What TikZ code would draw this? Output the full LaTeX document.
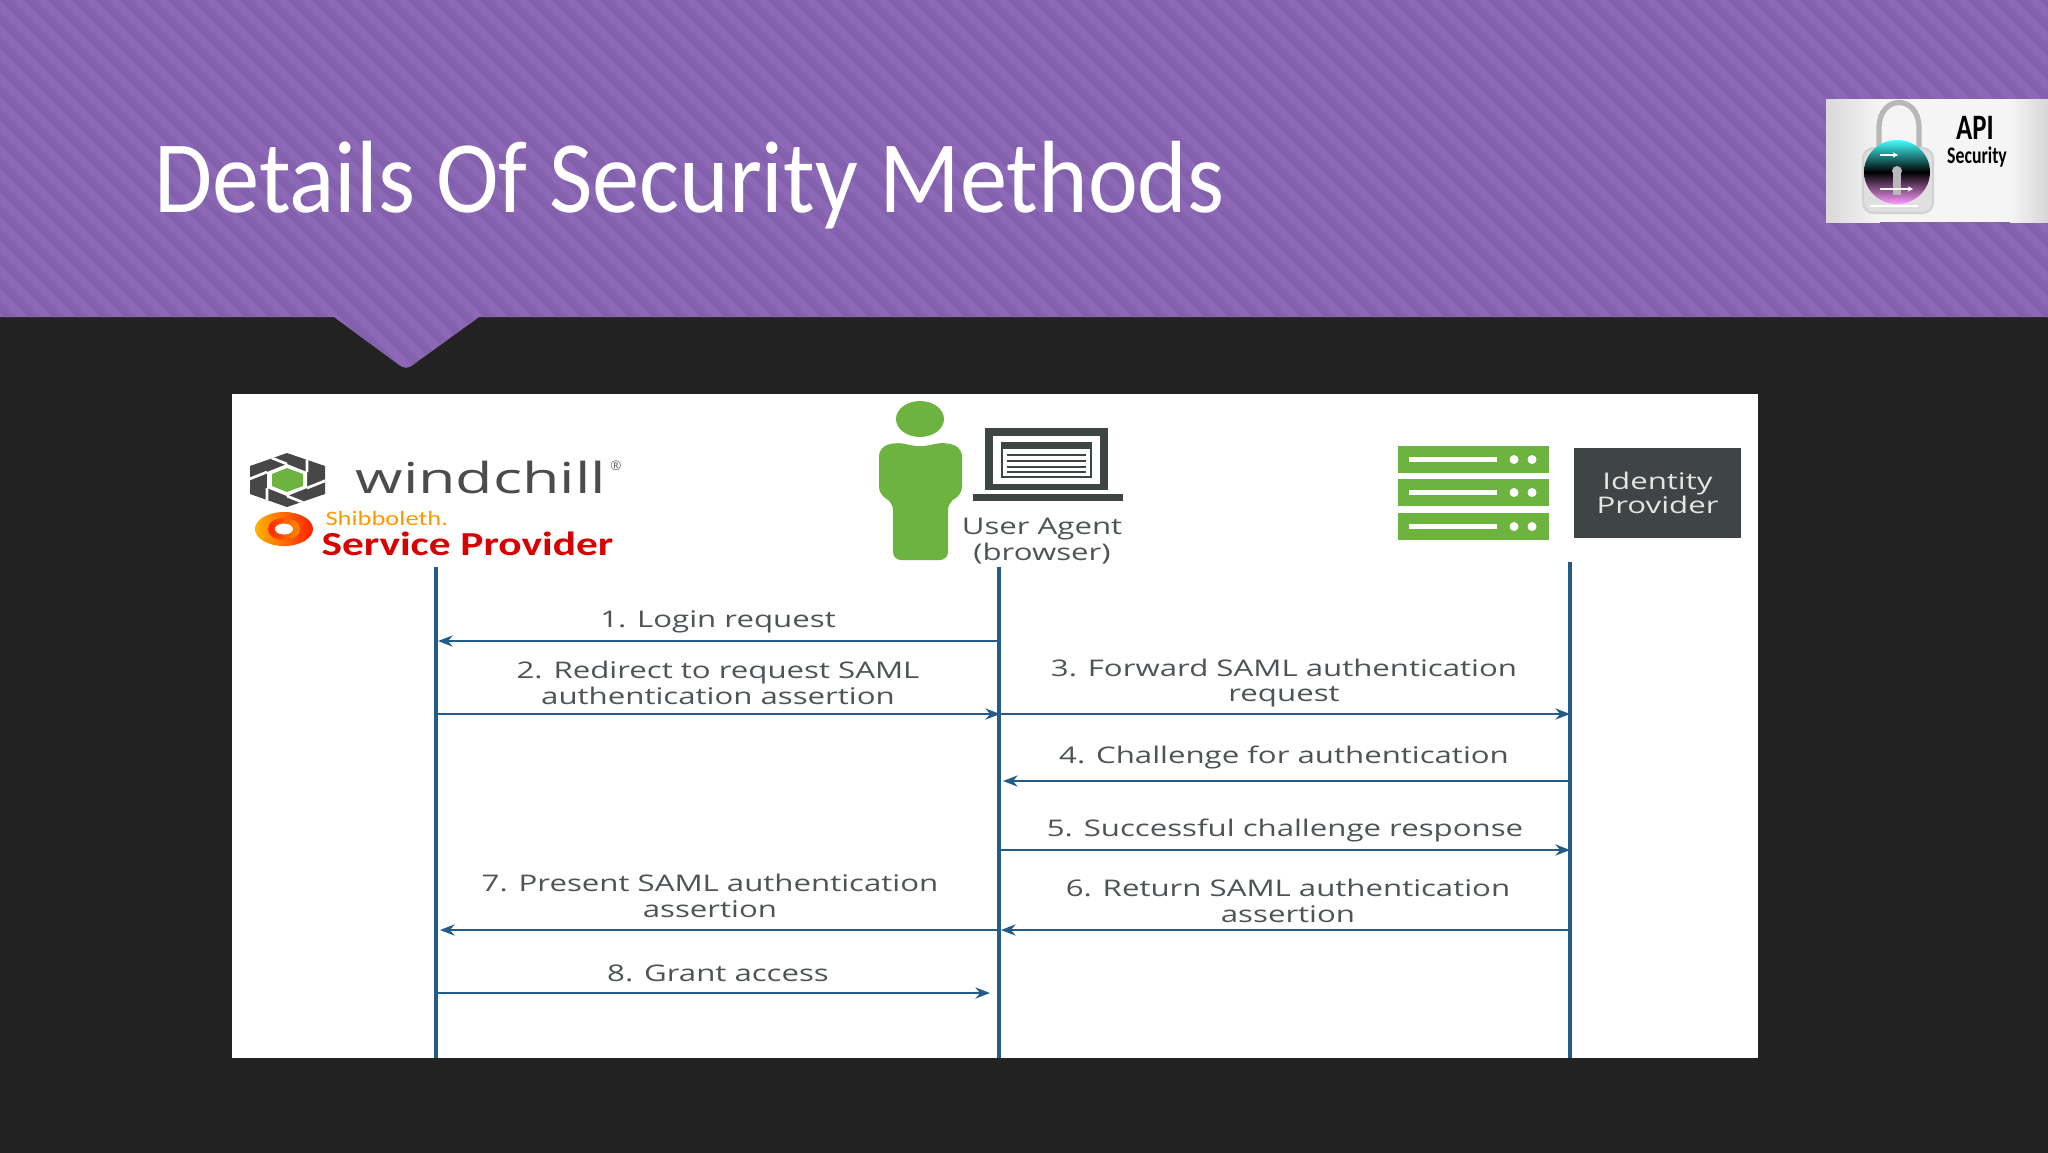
\documentclass[tikz,border=0pt]{standalone}
\usepackage{fontspec}
\usepackage{xcolor}
\usepackage{tikz}
\usetikzlibrary{arrows.meta}
\usetikzlibrary{positioning}
\setmainfont{Open Sans}
\newfontfamily\msgfont[FakeStretch=1.36]{Open Sans}
\newfontfamily\titlefont[FakeStretch=0.92]{Carlito}
\newfontfamily\brandfont[FakeStretch=1.43]{Open Sans}
\newfontfamily\spfont[FakeStretch=1.29]{Carlito}
\newfontfamily\apifont[FakeStretch=0.75]{Carlito}
\definecolor{bandpurple}{RGB}{140,104,182}
\definecolor{stripepurple}{RGB}{131,97,172}
\definecolor{slidedark}{RGB}{34,34,34}
\definecolor{msgtext}{RGB}{78,84,86}
\definecolor{flowblue}{RGB}{34,92,135}
\definecolor{agentgreen}{RGB}{108,179,63}
\definecolor{boxdark}{RGB}{63,69,69}
\tikzset{
  lifeline/.style={draw=flowblue,line width=1.3pt},
  flow/.style={draw=flowblue,line width=0.6pt,-{Stealth[length=5.5pt,width=4.2pt]}},
  msg/.style={font=\msgfont\fontsize{8.6}{9.6}\selectfont,text=msgtext,align=center,inner sep=0pt},
}
\begin{document}
\begin{tikzpicture}[x=0.375pt,y=0.375pt,yscale=-1,xscale=1]
\useasboundingbox (0,0) rectangle (2048,1152);
%Background
\fill [slidedark] (-5,-5) rectangle (2053,1157);
%Shape: Title band with notch
\begin{scope}
\clip (-5,-5) -- (2053,-5) -- (2053,317) -- (479,317) -- (414,364) .. controls (408,369) and (404,369) .. (398,364) -- (334,317) -- (-5,317) -- cycle;
\fill [bandpurple] (-5,-5) rectangle (2053,400);
\foreach \i in {-20,...,90}
  \draw [stripepurple,line width=3pt] (\i*24,-5) -- (\i*24+405,400);
\end{scope}
% Text Node
\node (title) [anchor=west,text=white,inner sep=0pt,font=\titlefont\fontsize{38.5}{44}\selectfont] at (154,185) {Details Of Security Methods};

%Shape: API logo
\fill [white!96!black] (1826,99) rectangle (2048,222);
\shade [left color=white!85!black,right color=white!96!black] (1826,99) rectangle (1880,222);
\shade [left color=white!96!black,right color=white!84!black] (2010,99) rectangle (2048,222);
\draw [white!72!black,line width=2pt] (1879,150) -- (1879,128) .. controls (1879,94) and (1919,94) .. (1919,128) -- (1919,150);
\draw [white!82!black,line width=0.8pt,fill=white!88!black,rounded corners=4pt] (1863,148) rectangle (1933,213);
\shade [top color=cyan!75!white,bottom color=magenta!40!white,middle color=black] (1897,172) ellipse (33 and 32);
\fill [white!72!black] (1897,171) circle (5);
\fill [white!72!black] (1893,173) rectangle (1901,195);
\draw [white,line width=0.5pt,-{Stealth[length=2pt,width=2pt]}] (1880,155) -- (1898,155);
\draw [white,line width=0.5pt,-{Stealth[length=2pt,width=2pt]}] (1880,189) -- (1913,189);
\draw [white,line width=0.4pt] (1870,206) -- (1918,206);
% Text Node
\node (api) [text=black,inner sep=0pt,font=\apifont\bfseries\fontsize{13.4}{14}\selectfont] at (1975,128) {API};
% Text Node
\node (security) [text=black,inner sep=0pt,font=\apifont\bfseries\fontsize{8.9}{9}\selectfont] at (1977,157) {Security};

%Shape: Diagram panel
\fill [white] (232,394) rectangle (1758,1058);

%Shape: windchill logo
\begin{scope}
\clip (287,453) -- (325,466) -- (325,494) -- (287,507) -- (250,494) -- (250,466) -- cycle;
\fill [black!72] (240,445) rectangle (335,515);
\fill [white] (287,464) -- (307,472) -- (307,488) -- (287,496) -- (267,488) -- (267,472) -- cycle;
\draw [white,line width=1pt] (287,464) -- (252,450) (307,472) -- (307,448) (307,488) -- (332,478) (287,496) -- (322,510) (267,488) -- (267,512) (267,472) -- (242,482);
\end{scope}
\fill [agentgreen] (287,468) -- (303,474) -- (303,486) -- (287,492) -- (272,486) -- (272,474) -- cycle;
% Text Node
\node (windchill) [anchor=base west,text=black!70,inner sep=0pt,font=\brandfont\fontsize{16}{17}\selectfont] at (355,493) {windchill};
% Text Node
\node (regmark) [text=black!60,inner sep=0pt,font=\fontsize{5}{5}\selectfont] at (616,466) {®};

%Shape: Shibboleth logo
\shade [left color=orange!60!yellow,right color=red!75!orange] (284,529) ellipse (29 and 17);
\shade [left color=red!70!orange,right color=orange!90!yellow] (284,529) ellipse (16 and 11);
\fill [white] (284,529) ellipse (9 and 5.5);
% Text Node
\node (shibboleth) [anchor=base west,text=orange!80!yellow,inner sep=0pt,font=\spfont\fontsize{7.7}{8}\selectfont] at (325,525) {Shibboleth.};
% Text Node
\node (serviceprovider) [anchor=base west,text=red!85!black,inner sep=0pt,font=\spfont\bfseries\fontsize{12.6}{13}\selectfont] at (321,555) {Service Provider};

%Shape: User
\fill [agentgreen] (920,419) ellipse (24 and 18);
\fill [agentgreen,rounded corners=3pt] (895,442) -- (920,447) -- (945,442) -- (962,448) -- (962,495) -- (948,502) -- (948,560) -- (893,560) -- (893,502) -- (879,495) -- (879,448) -- cycle;

%Shape: Laptop
\fill [boxdark] (985,428) rectangle (1108,490);
\fill [white] (993,436) rectangle (1100,484);
\draw [boxdark,line width=0.6pt] (1002,443) rectangle (1091,477);
\fill [boxdark] (1002,443) rectangle (1091,449);
\draw [boxdark,line width=0.4pt] (1007,455) -- (1086,455) (1007,461) -- (1086,461) (1007,467) -- (1086,467) (1007,472) -- (1086,472);
\fill [boxdark] (973,494) rectangle (1123,501);
% Text Node
\node (agent) [msg] at (1042,541) {User Agent\\(browser)};

%Shape: Server
\foreach \r/\h in {1/446,2/479,3/513} {
  \fill [agentgreen] (1398,\h) rectangle (1549,\h+27);
  \draw [white,line width=1.6pt] (1409,\h+13.5) -- (1497,\h+13.5);
  \fill [white] (1514,\h+13.5) circle (4.5);
  \fill [white] (1532,\h+13.5) circle (4.5);
}
% Identity box
\node (idp) [fill=boxdark,text=white!90!black,minimum width=62.6pt,minimum height=34.1pt,inner sep=0pt,align=center,font=\msgfont\fontsize{8.6}{9.2}\selectfont] at (1657.5,493) {Identity\\Provider};

%Lifelines
\coordinate (spTop) at (436,567);
\coordinate (spEnd) at (436,1058);
\coordinate (uaTop) at (999,567);
\coordinate (uaEnd) at (999,1058);
\coordinate (idTop) at (1570,562);
\coordinate (idEnd) at (1570,1058);
\draw [lifeline] (spTop) -- (spEnd);
\draw [lifeline] (uaTop) -- (uaEnd);
\draw [lifeline] (idTop) -- (idEnd);

%Message ends
\coordinate (sp1) at (438,641);
\coordinate (ua1) at (999,641);
\coordinate (sp2) at (436,714);
\coordinate (ua2) at (1000,714);
\coordinate (ua3) at (999,714);
\coordinate (id3) at (1570,714);
\coordinate (id4) at (1570,781);
\coordinate (ua4) at (1003,781);
\coordinate (ua5) at (999,850);
\coordinate (id5) at (1570,850);
\coordinate (id6) at (1570,930);
\coordinate (ua6) at (1001,930);
\coordinate (ua7) at (999,930);
\coordinate (sp7) at (440,930);
\coordinate (sp8) at (436,993);
\coordinate (ua8) at (990,993);
\draw [flow] (ua1) -- (sp1);
\draw [flow] (sp2) -- (ua2);
\draw [flow] (ua3) -- (id3);
\draw [flow] (id4) -- (ua4);
\draw [flow] (ua5) -- (id5);
\draw [flow] (id6) -- (ua6);
\draw [flow] (ua7) -- (sp7);
\draw [flow] (sp8) -- (ua8);

% Text Node
\node (login) [msg] at (718,622) {1. Login request};
% Text Node
\node (redirect) [msg] at (718,683) {2. Redirect to request SAML\\authentication assertion};
% Text Node
\node (forward) [msg] at (1284,683) {3. Forward SAML authentication\\request};
% Text Node
\node (challenge) [msg] at (1284,757) {4. Challenge for authentication};
% Text Node
\node (response) [msg] at (1285,830) {5. Successful challenge response};
% Text Node
\node (returns) [msg] at (1288,901) {6. Return SAML authentication\\assertion};
% Text Node
\node (present) [msg] at (710,896) {7. Present SAML authentication\\assertion};
% Text Node
\node (grant) [msg] at (718,973) {8. Grant access};

\end{tikzpicture}
\end{document}
